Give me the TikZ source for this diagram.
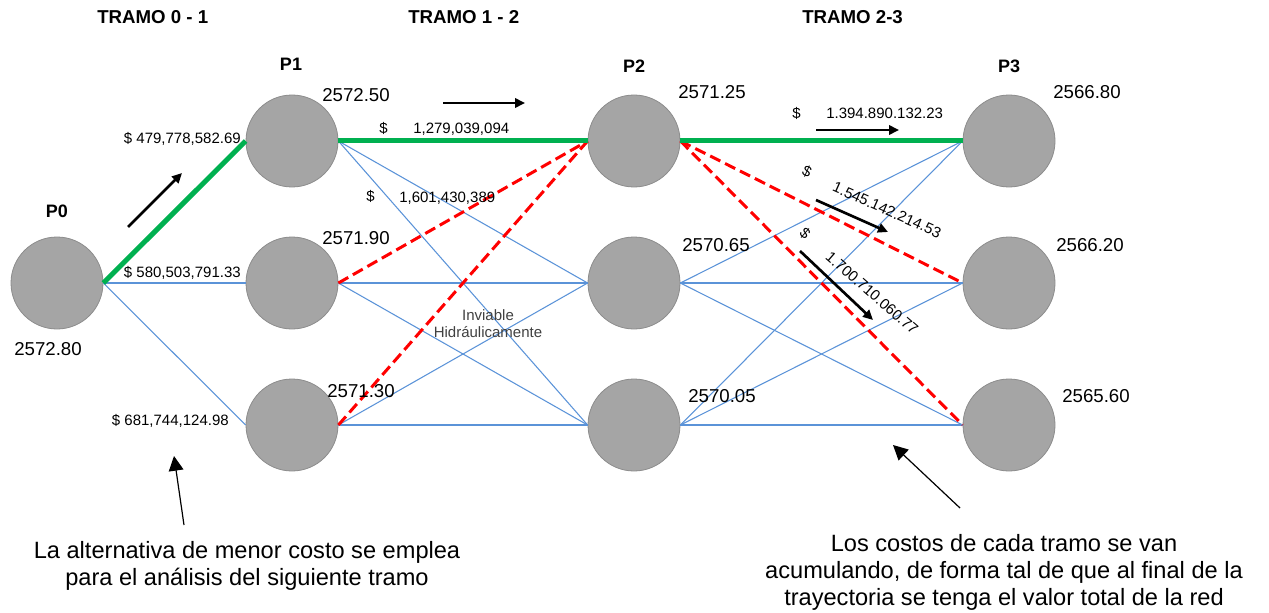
\documentclass[tikz,border=0pt]{standalone}
\usepackage{fontspec}
\setmainfont{Liberation Sans}
\usetikzlibrary{arrows.meta}
\definecolor{nodegray}{HTML}{A5A5A5}
\definecolor{nodeedge}{HTML}{8C8C8C}
\definecolor{bestgreen}{HTML}{00B050}
\definecolor{linkblue}{HTML}{5B93D8}
\definecolor{noteink}{HTML}{404040}
\definecolor{badred}{HTML}{FF0000}

\begin{document}
\begin{tikzpicture}[x=0.75pt,y=-0.75pt,
  pozo/.style={circle,fill=nodegray,draw=nodeedge,line width=0.6pt,minimum size=69pt,inner sep=0pt},
  enlace/.style={draw=linkblue,line width=0.8pt},
  optimo/.style={draw=bestgreen,line width=3.75pt},
  inviable/.style={draw=badred,line width=2.25pt,dash pattern=on 8.5pt off 4pt},
  sentido/.style={draw=black,line width=2pt,-{Triangle[length=7.5pt,width=7pt]}},
  senal/.style={draw=black,line width=0.9pt,-{Triangle[length=11pt,width=11pt]}},
  tramo/.style={font=\bfseries\fontsize{14}{16}\selectfont,anchor=base west,inner sep=0pt},
  plabel/.style={font=\bfseries\fontsize{13.5}{16}\selectfont,anchor=base,inner sep=0pt},
  cota/.style={font=\fontsize{14}{16}\selectfont,anchor=base west,inner sep=0pt},
  costo/.style={font=\fontsize{11.25}{13}\selectfont,inner sep=0pt},
  aviso/.style={font=\fontsize{11.25}{13}\selectfont,text=noteink,anchor=base,inner sep=0pt},
  nota/.style={font=\fontsize{17.7}{20}\selectfont,anchor=base,inner sep=0pt}]

\useasboundingbox (0,0) rectangle (1269,613);

% ---- wells (nodes of the network) ----
\node[pozo] (p0)  at (57,283) {};
\node[pozo] (p1a) at (292,141) {};
\node[pozo] (p1b) at (292,283) {};
\node[pozo] (p1c) at (292,425) {};
\node[pozo] (p2a) at (634,141) {};
\node[pozo] (p2b) at (634,283) {};
\node[pozo] (p2c) at (634,425) {};
\node[pozo] (p3a) at (1009,141) {};
\node[pozo] (p3b) at (1009,283) {};
\node[pozo] (p3c) at (1009,425) {};

% ---- candidate links ----
\draw[enlace] (p0.east) -- (p1b.west);
\draw[enlace] (p0.east) -- (p1c.west);
\foreach \a/\b in {a/b,a/c,b/b,b/c,c/b,c/c}{
  \draw[enlace] (p1\a.east) -- (p2\b.west);
}
\foreach \a/\b in {b/a,b/b,b/c,c/a,c/b,c/c}{
  \draw[enlace] (p2\a.east) -- (p3\b.west);
}

% ---- hydraulically infeasible links ----
\draw[inviable] (p1b.east) -- (p2a.west);
\draw[inviable] (p1c.east) -- (p2a.west);
\draw[inviable] (p2a.east) -- (p3b.west);
\draw[inviable] (p2a.east) -- (p3c.west);

% ---- least-cost path ----
\draw[optimo] (p0.east) -- (p1a.west);
\draw[optimo] (p1a.east) -- (p2a.west);
\draw[optimo] (p2a.east) -- (p3a.west);

% ---- section headings ----
\node[tramo] (t01) at (97,24) {TRAMO 0 - 1};
\node[tramo] (t12) at (408,24) {TRAMO 1 - 2};
\node[tramo] (t23) at (802,24) {TRAMO 2-3};

% ---- well names ----
\node[plabel] (n0) at (57,217) {P0};
\node[plabel] (n1) at (291,71) {P1};
\node[plabel] (n2) at (634,73) {P2};
\node[plabel] (n3) at (1009,73) {P3};

% ---- elevations ----
\node[cota] (c0)  at (14,355) {2572.80};
\node[cota] (c1a) at (322,102) {2572.50};
\node[cota] (c1b) at (322,244) {2571.90};
\node[cota] (c1c) at (327,397) {2571.30};
\node[cota] (c2a) at (678,99) {2571.25};
\node[cota] (c2b) at (682,251) {2570.65};
\node[cota] (c2c) at (688,402) {2570.05};
\node[cota] (c3a) at (1053,99) {2566.80};
\node[cota] (c3b) at (1056,251) {2566.20};
\node[cota] (c3c) at (1062,402) {2565.60};

% ---- costs per link ----
\node[costo,anchor=base east] (k01a) at (241,143) {\$ 479,778,582.69};
\node[costo,anchor=base east] (k01b) at (241,277) {\$ 580,503,791.33};
\node[costo,anchor=base east] (k01c) at (229,425) {\$ 681,744,124.98};
\node[costo,anchor=base west] (s12a) at (379,134) {\$};
\node[costo,anchor=base west] (k12a) at (413,134) {1,279,039,094};
\node[costo,anchor=base west] (s12b) at (366,201) {\$};
\node[costo,anchor=base west] (k12b) at (399,202) {1,601,430,389};
\node[costo,anchor=base west] (s23a) at (792,119) {\$};
\node[costo,anchor=base west] (k23a) at (826,119) {1.394.890.132.23};
\node[costo,rotate=-24] (s23b) at (807,172) {\$};
\node[costo,rotate=-24] (k23b) at (887,210) {1.545.142.214.53};
\node[costo,rotate=-41] (s23c) at (805,233) {\$};
\node[costo,rotate=-41] (k23c) at (872,293) {1.700.710.060.77};

% ---- infeasibility note ----
\node[aviso] (inv1) at (488,320) {Inviable};
\node[aviso] (inv2) at (488,337) {Hidráulicamente};

% ---- flow direction arrows ----
\coordinate (d1s) at (128,227); \coordinate (d1e) at (182,173);
\coordinate (d2s) at (443,103); \coordinate (d2e) at (525,103);
\coordinate (d3s) at (816,130); \coordinate (d3e) at (899,130);
\coordinate (d4s) at (816,200); \coordinate (d4e) at (888,232);
\coordinate (d5s) at (800,251); \coordinate (d5e) at (873,320);
\draw[sentido] (d1s) -- (d1e);
\draw[sentido] (d2s) -- (d2e);
\draw[sentido] (d3s) -- (d3e);
\draw[sentido] (d4s) -- (d4e);
\draw[sentido] (d5s) -- (d5e);

% ---- explanatory notes ----
\node[nota] (na1) at (247,558) {La alternativa de menor costo se emplea};
\node[nota] (na2) at (247,585) {para el análisis del siguiente tramo};
\node[nota] (nb1) at (1004,551) {Los costos de cada tramo se van};
\node[nota] (nb2) at (1004,578) {acumulando, de forma tal de que al final de la};
\node[nota] (nb3) at (1004,605) {trayectoria se tenga el valor total de la red};

\coordinate (ta) at (184,525); \coordinate (ha) at (174,456);
\coordinate (tb) at (960,508); \coordinate (hb) at (893,445);
\draw[senal] (ta) -- (ha);
\draw[senal] (tb) -- (hb);
\end{tikzpicture}
\end{document}
